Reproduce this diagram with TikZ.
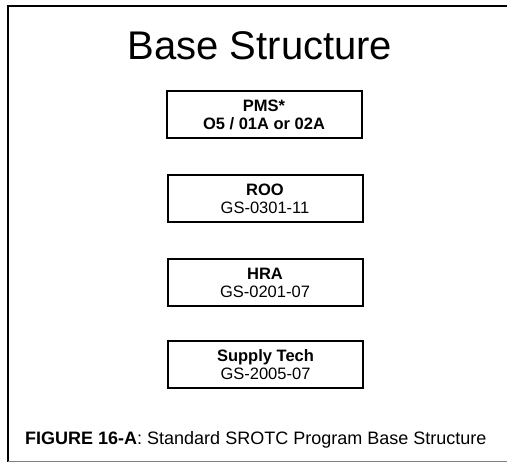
\documentclass[tikz,border=0pt]{standalone}
\usepackage{fontspec}
\setmainfont{Liberation Sans}
\begin{document}
\begin{tikzpicture}[x=1pt,y=-1pt,
  rolebox/.style={draw=black,line width=2pt,minimum width=195pt,minimum height=47pt,
    align=center,inner sep=0pt,font=\fontsize{16.5}{18}\selectfont},
  frameline/.style={line width=2pt,black}]
\useasboundingbox (0,0) rectangle (507,462);
% frame
\draw[frameline] (8,462) -- (8,6) -- (507,6);
\draw[gray,line width=0.8pt] (8,461.5) -- (507,461.5);
% title
\node[font=\fontsize{40}{44}\selectfont,anchor=base] (title) at (260,60) {Base Structure};
% positions
\node[rolebox] (pms) at (264,115) {\textbf{PMS*}\\\textbf{O5 / 01A or 02A}};
\node[rolebox] (roo) at (265,198.5) {\textbf{ROO}\\GS-0301-11};
\node[rolebox] (hra) at (265,282.5) {\textbf{HRA}\\GS-0201-07};
\node[rolebox] (sup) at (265.5,365) {\textbf{Supply Tech}\\GS-2005-07};
% caption
\node[font=\fontsize{18}{20}\selectfont,anchor=base west,inner sep=0pt] (cap) at (25,445)
  {\textbf{FIGURE 16-A}: Standard SROTC Program Base Structure};
\end{tikzpicture}
\end{document}
